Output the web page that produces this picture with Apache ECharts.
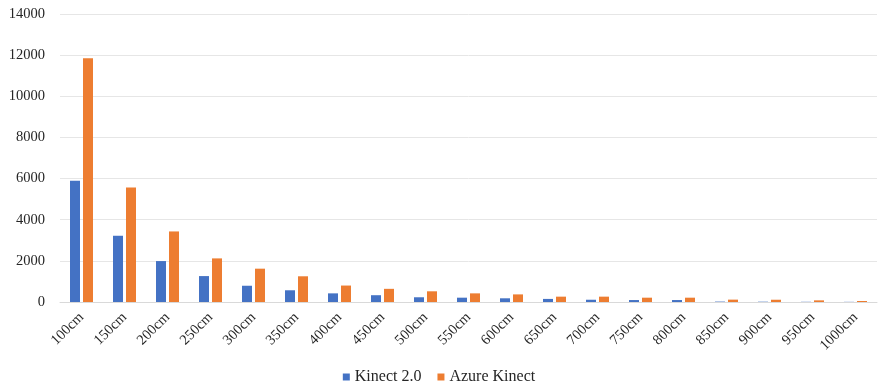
<!DOCTYPE html>
<html>
<head>
<meta charset="utf-8">
<script src="https://cdn.jsdelivr.net/npm/echarts@6/dist/echarts.min.js"></script>
<style>
  html, body { margin: 0; padding: 0; background: #fff; }
  #chart { width: 878px; height: 390px; }
</style>
</head>
<body>
<div id="chart"></div>
<script>
// Measurement distances
const categories = ['100cm', '150cm', '200cm', '250cm', '300cm', '350cm', '400cm', '450cm', '500cm', '550cm',
  '600cm', '650cm', '700cm', '750cm', '800cm', '850cm', '900cm', '950cm', '1000cm'];

// Point counts per distance for each sensor
const kinect2 = [5900, 3220, 1990, 1260, 790, 570, 420, 330, 230, 210, 180, 150, 110, 95, 95, 20, 15, 10, 8];
const azureKinect = [11850, 5560, 3430, 2120, 1620, 1250, 800, 640, 520, 420, 370, 260, 260, 210, 210, 115, 110, 80, 50];

const yTicks = { min: 0, max: 14000, interval: 2000 };

const chart = echarts.init(document.getElementById('chart'));
const font = '"Liberation Serif", "Times New Roman", serif';

chart.setOption({
  animation: false,
  textStyle: { fontFamily: font },
  grid: { left: 60, right: 1, top: 14, bottom: 88, containLabel: false },
  legend: {
    bottom: 0,
    left: 'center',
    itemWidth: 7,
    itemHeight: 7,
    itemGap: 16,
    icon: 'rect',
    textStyle: { fontFamily: font, fontSize: 16, color: '#262626' },
    data: ['Kinect 2.0', 'Azure Kinect']
  },
  xAxis: {
    type: 'category',
    data: categories,
    axisTick: { show: false },
    axisLine: { lineStyle: { color: '#d9d9d9' } },
    axisLabel: { rotate: 45, fontFamily: font, fontSize: 14.5, color: '#262626', margin: 13, interval: 0 }
  },
  yAxis: {
    type: 'value',
    min: yTicks.min,
    max: yTicks.max,
    interval: yTicks.interval,
    axisLine: { show: false },
    axisTick: { show: false },
    splitLine: { lineStyle: { color: '#e6e6e6' } },
    axisLabel: { fontFamily: font, fontSize: 14.5, color: '#262626', margin: 15, formatter: v => String(v) }
  },
  series: [
    {
      name: 'Kinect 2.0',
      type: 'bar',
      data: kinect2,
      barWidth: 10,
      barGap: '30%',
      itemStyle: { color: '#4472C4' }
    },
    {
      name: 'Azure Kinect',
      type: 'bar',
      data: azureKinect,
      barWidth: 10,
      itemStyle: { color: '#ED7D31' }
    }
  ]
});
</script>
</body>
</html>
